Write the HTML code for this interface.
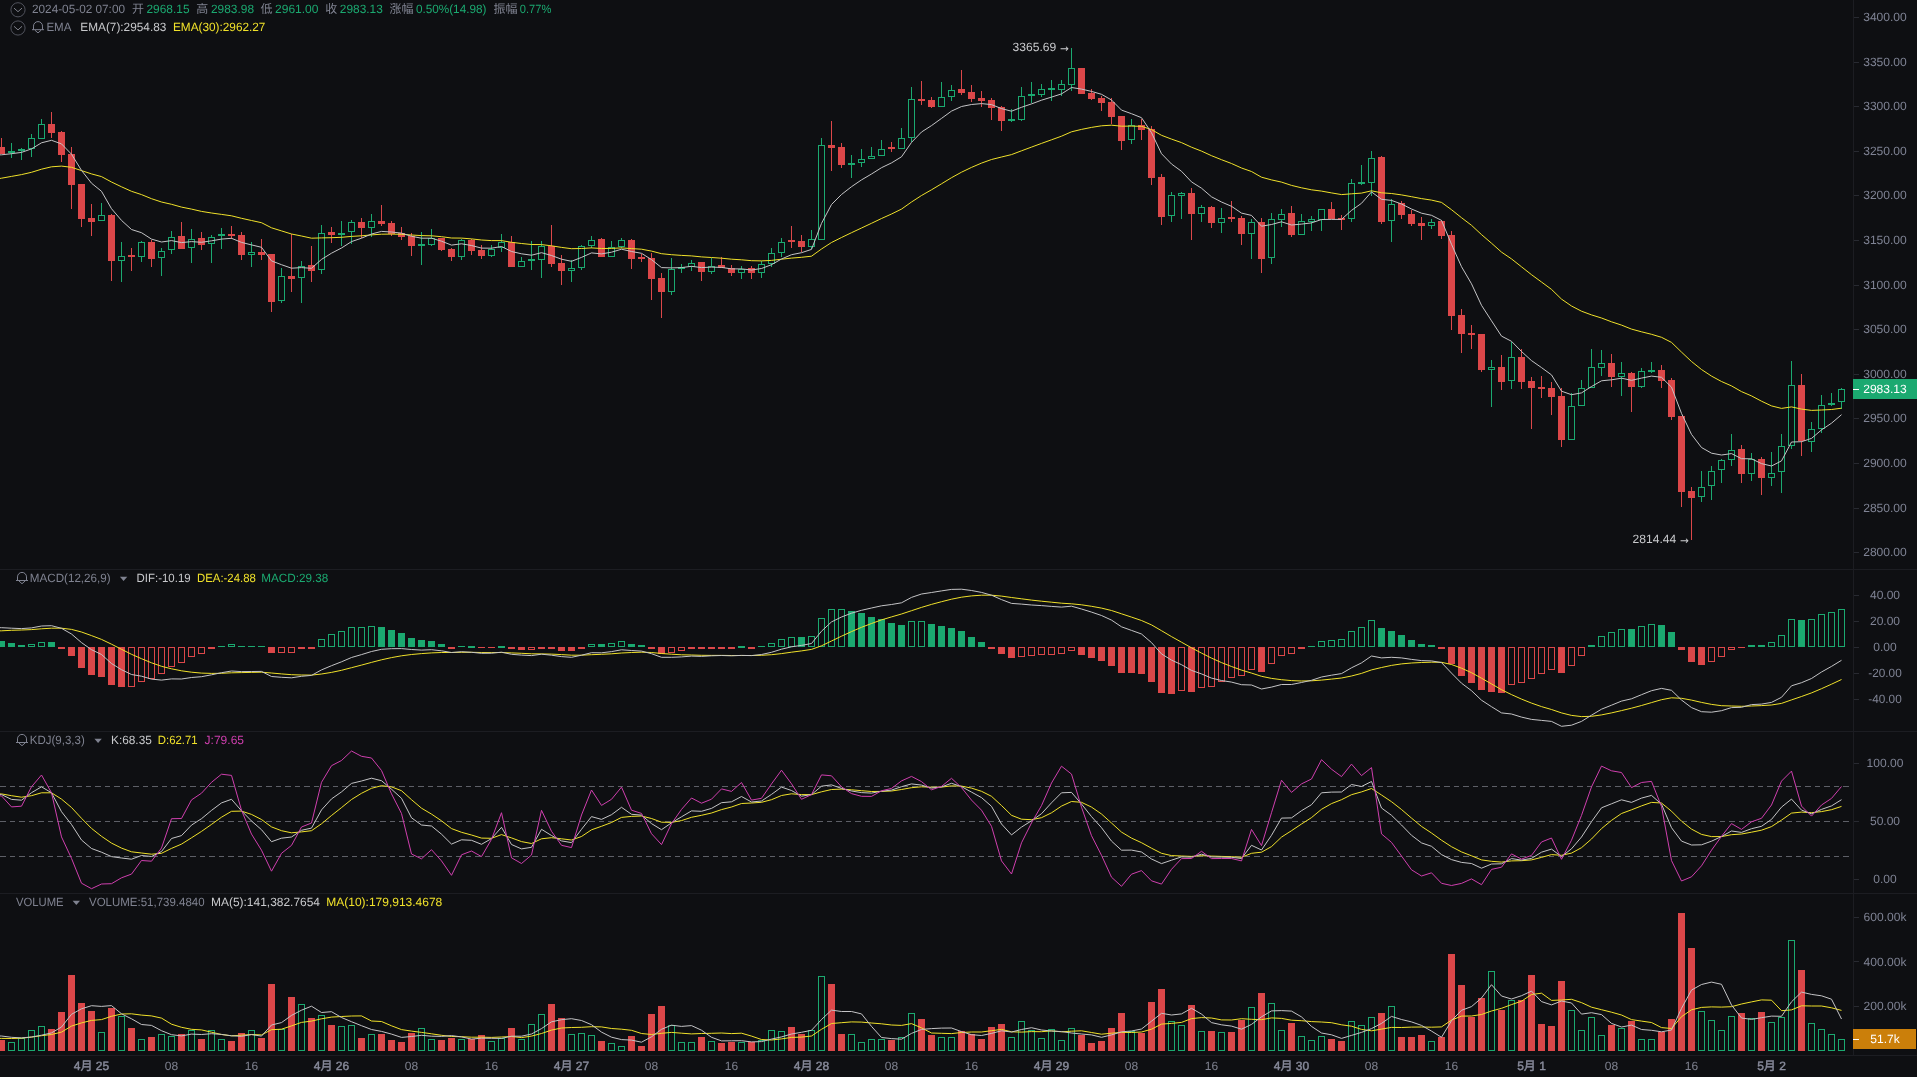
<!DOCTYPE html>
<html lang="zh"><head><meta charset="utf-8"><title>ETH/USDT 1H</title>
<style>html,body{margin:0;padding:0;background:#0e0f12;overflow:hidden}svg text{white-space:pre;text-rendering:geometricPrecision}</style></head>
<body><svg width="1917" height="1077" viewBox="0 0 1917 1077" style="display:block;will-change:transform;font-family:'Liberation Sans', 'Noto Sans CJK SC', sans-serif;font-size:12px">
<rect width="1917" height="1077" fill="#0e0f12"/>
<g stroke="#1c1d22" stroke-width="1" shape-rendering="crispEdges">
<line x1="0" y1="569.5" x2="1917" y2="569.5"/>
<line x1="0" y1="731.5" x2="1917" y2="731.5"/>
<line x1="0" y1="893.5" x2="1917" y2="893.5"/>
<line x1="0" y1="1055.5" x2="1917" y2="1055.5"/>
<line x1="1853.5" y1="0" x2="1853.5" y2="1055.5"/>
</g>
<g stroke="#5d5f67" stroke-width="1" stroke-dasharray="5.5 4" shape-rendering="crispEdges">
<line x1="0" y1="786.5" x2="1853" y2="786.5"/>
<line x1="0" y1="821.5" x2="1853" y2="821.5"/>
<line x1="0" y1="856.5" x2="1853" y2="856.5"/>
</g>
<g shape-rendering="crispEdges" fill="none" stroke-width="1">
<path stroke="#1ba970" d="M11.5 143V158M21.5 148V160M31.5 134V138M31.5 149V157M41.5 119V124M101.5 203V215M121.5 242V256M121.5 261V282M141.5 241V242M141.5 257V262M161.5 248V251M161.5 258V276M171.5 231V237M171.5 250V254M191.5 229V239M191.5 248V263M211.5 235V237M211.5 244V263M221.5 228V249M251.5 242V252M251.5 255V267M281.5 268V276M281.5 301V303M301.5 261V266M301.5 278V303M321.5 225V233M321.5 270V274M341.5 221V246M351.5 220V222M351.5 232V244M371.5 214V221M371.5 228V237M421.5 232V265M431.5 229V238M431.5 245V246M461.5 239V240M461.5 257V260M491.5 245V249M491.5 256V257M501.5 234V242M501.5 248V252M521.5 257V261M531.5 241V270M541.5 241V246M541.5 260V278M571.5 260V268M571.5 271V282M581.5 245V246M581.5 268V270M591.5 236V240M591.5 246V248M611.5 241V247M621.5 238V240M621.5 247V248M671.5 258V269M671.5 292V295M681.5 264V273M691.5 260V263M691.5 267V271M711.5 258V266M711.5 272V274M741.5 266V269M741.5 273V279M761.5 261V264M761.5 273V278M771.5 248V253M771.5 264V267M781.5 238V242M781.5 253V257M811.5 230V239M811.5 247V249M821.5 138V145M851.5 155V178M861.5 149V159M861.5 163V167M871.5 147V156M881.5 140V149M901.5 128V138M911.5 87V99M911.5 138V142M941.5 82V97M951.5 85V90M951.5 97V101M1011.5 109V122M1021.5 87V96M1021.5 120V121M1031.5 82V103M1041.5 84V89M1041.5 95V97M1051.5 80V101M1061.5 80V84M1061.5 90V96M1071.5 48V68M1071.5 85V91M1131.5 119V125M1131.5 140V144M1171.5 192V195M1171.5 216V222M1181.5 192V193M1181.5 196V219M1201.5 205V207M1201.5 214V222M1221.5 208V218M1221.5 223V233M1251.5 219V222M1251.5 234V259M1271.5 213V219M1271.5 258V264M1281.5 209V214M1281.5 220V227M1301.5 214V221M1311.5 216V219M1311.5 222V231M1321.5 220V231M1351.5 179V183M1351.5 219V222M1361.5 165V185M1371.5 151V158M1371.5 183V196M1391.5 199V204M1391.5 221V242M1431.5 219V222M1431.5 226V229M1491.5 360V367M1491.5 370V407M1511.5 342V357M1511.5 381V389M1571.5 393V406M1581.5 380V388M1591.5 349V367M1601.5 350V363M1601.5 368V376M1621.5 362V373M1621.5 377V396M1641.5 368V371M1641.5 387V388M1651.5 362V373M1701.5 471V487M1701.5 497V502M1711.5 466V471M1711.5 486V500M1721.5 459V460M1721.5 470V483M1731.5 434V450M1731.5 460V466M1751.5 453V459M1751.5 474V481M1771.5 452V473M1771.5 478V486M1781.5 434V446M1781.5 472V493M1791.5 361V385M1791.5 446V449M1811.5 422V429M1811.5 442V452M1821.5 395V405M1821.5 429V433M1831.5 393V406M1841.5 388V389M1841.5 402V409"/>
<path stroke="#1ba970" d="M28.5 138.5h6V148.5h-6zM38.5 124.5h6V138.5h-6zM98.5 215.5h6V220.5h-6zM118.5 256.5h6V260.5h-6zM138.5 242.5h6V256.5h-6zM158.5 251.5h6V257.5h-6zM168.5 237.5h6V249.5h-6zM188.5 239.5h6V247.5h-6zM208.5 237.5h6V243.5h-6zM248.5 252.5h6V254.5h-6zM278.5 276.5h6V300.5h-6zM298.5 266.5h6V277.5h-6zM318.5 233.5h6V269.5h-6zM348.5 222.5h6V231.5h-6zM368.5 221.5h6V227.5h-6zM428.5 238.5h6V244.5h-6zM458.5 240.5h6V256.5h-6zM488.5 249.5h6V255.5h-6zM498.5 242.5h6V247.5h-6zM518.5 261.5h6V266.5h-6zM538.5 246.5h6V259.5h-6zM568.5 268.5h6V270.5h-6zM578.5 246.5h6V267.5h-6zM588.5 240.5h6V245.5h-6zM608.5 247.5h6V256.5h-6zM618.5 240.5h6V246.5h-6zM668.5 269.5h6V291.5h-6zM688.5 263.5h6V266.5h-6zM708.5 266.5h6V271.5h-6zM738.5 269.5h6V272.5h-6zM758.5 264.5h6V272.5h-6zM768.5 253.5h6V263.5h-6zM778.5 242.5h6V252.5h-6zM808.5 239.5h6V246.5h-6zM818.5 145.5h6V239.5h-6zM858.5 159.5h6V162.5h-6zM868.5 156.5h6V158.5h-6zM878.5 149.5h6V155.5h-6zM898.5 138.5h6V148.5h-6zM908.5 99.5h6V137.5h-6zM938.5 97.5h6V106.5h-6zM948.5 90.5h6V96.5h-6zM1018.5 96.5h6V119.5h-6zM1038.5 89.5h6V94.5h-6zM1058.5 84.5h6V89.5h-6zM1068.5 68.5h6V84.5h-6zM1128.5 125.5h6V139.5h-6zM1168.5 195.5h6V215.5h-6zM1178.5 193.5h6V195.5h-6zM1198.5 207.5h6V213.5h-6zM1218.5 218.5h6V222.5h-6zM1248.5 222.5h6V233.5h-6zM1268.5 219.5h6V257.5h-6zM1278.5 214.5h6V219.5h-6zM1298.5 221.5h6V234.5h-6zM1308.5 219.5h6V221.5h-6zM1318.5 209.5h6V219.5h-6zM1348.5 183.5h6V218.5h-6zM1368.5 158.5h6V182.5h-6zM1388.5 204.5h6V220.5h-6zM1428.5 222.5h6V225.5h-6zM1488.5 367.5h6V369.5h-6zM1508.5 357.5h6V380.5h-6zM1568.5 406.5h6V439.5h-6zM1578.5 388.5h6V405.5h-6zM1588.5 367.5h6V387.5h-6zM1598.5 363.5h6V367.5h-6zM1618.5 373.5h6V376.5h-6zM1638.5 371.5h6V386.5h-6zM1698.5 487.5h6V496.5h-6zM1708.5 471.5h6V485.5h-6zM1718.5 460.5h6V469.5h-6zM1728.5 450.5h6V459.5h-6zM1748.5 459.5h6V473.5h-6zM1768.5 473.5h6V477.5h-6zM1778.5 446.5h6V471.5h-6zM1788.5 385.5h6V445.5h-6zM1808.5 429.5h6V441.5h-6zM1818.5 405.5h6V428.5h-6zM1838.5 389.5h6V401.5h-6z"/>
<path fill="#1ba970" stroke="none" d="M8 151h7V153h-7zM18 149h7V151h-7zM218 234h7V236h-7zM338 233h7V235h-7zM418 244h7V246h-7zM528 259h7V261h-7zM678 267h7V269h-7zM848 163h7V165h-7zM1008 119h7V121h-7zM1028 94h7V96h-7zM1048 88h7V90h-7zM1358 182h7V184h-7zM1648 370h7V372h-7zM1828 403h7V405h-7z"/>
<path stroke="#dc4749" d="M1.5 138V154M51.5 112V138M61.5 131V162M71.5 147V209M81.5 184V227M91.5 204V236M111.5 214V281M131.5 248V271M151.5 240V267M181.5 222V249M201.5 232V250M231.5 226V239M241.5 232V260M261.5 239V260M271.5 254V312M291.5 234V292M311.5 246V282M331.5 227V243M361.5 218V238M381.5 205V226M391.5 221V236M401.5 227V240M411.5 233V256M441.5 238V251M451.5 248V261M471.5 239V255M481.5 245V259M511.5 236V267M551.5 225V267M561.5 255V285M601.5 238V257M631.5 239V269M641.5 254V262M651.5 253V300M661.5 273V318M701.5 262V281M721.5 257V268M731.5 265V276M751.5 266V279M791.5 226V248M801.5 235V252M831.5 121V171M841.5 143V168M891.5 142V152M921.5 81V105M931.5 97V108M961.5 70V95M971.5 85V102M981.5 91V107M991.5 98V120M1001.5 106V131M1081.5 68V94M1091.5 89V100M1101.5 96V111M1111.5 98V124M1121.5 116V150M1141.5 119V140M1151.5 126V185M1161.5 174V225M1191.5 188V240M1211.5 206V228M1231.5 201V222M1241.5 216V245M1261.5 218V273M1291.5 206V237M1331.5 202V219M1341.5 215V230M1381.5 156V224M1401.5 201V219M1411.5 210V226M1421.5 217V240M1441.5 220V239M1451.5 231V330M1461.5 309V353M1471.5 325V349M1481.5 334V372M1501.5 355V390M1521.5 349V389M1531.5 377V429M1541.5 376V398M1551.5 382V415M1561.5 388V447M1611.5 354V387M1631.5 372V412M1661.5 365V388M1671.5 378V420M1681.5 416V507M1691.5 487V540M1741.5 445V483M1761.5 457V495M1801.5 374V456"/>
<path fill="#dc4749" stroke="none" d="M-2 147h7V154h-7zM48 124h7V133h-7zM58 132h7V155h-7zM68 154h7V185h-7zM78 184h7V219h-7zM88 218h7V222h-7zM108 215h7V261h-7zM128 255h7V257h-7zM148 242h7V259h-7zM178 236h7V249h-7zM198 238h7V245h-7zM228 234h7V236h-7zM238 235h7V255h-7zM258 252h7V255h-7zM268 254h7V302h-7zM288 276h7V279h-7zM308 265h7V271h-7zM328 232h7V235h-7zM358 222h7V228h-7zM378 221h7V224h-7zM388 223h7V234h-7zM398 233h7V237h-7zM408 236h7V246h-7zM438 238h7V250h-7zM448 249h7V257h-7zM468 240h7V251h-7zM478 250h7V256h-7zM508 242h7V267h-7zM548 246h7V264h-7zM558 263h7V271h-7zM598 239h7V257h-7zM628 240h7V259h-7zM638 257h7V259h-7zM648 258h7V279h-7zM658 278h7V292h-7zM698 262h7V272h-7zM718 265h7V268h-7zM728 268h7V273h-7zM748 268h7V273h-7zM788 240h7V242h-7zM798 241h7V247h-7zM828 145h7V148h-7zM838 147h7V165h-7zM888 147h7V149h-7zM918 99h7V101h-7zM928 100h7V107h-7zM958 89h7V93h-7zM968 92h7V99h-7zM978 98h7V101h-7zM988 100h7V108h-7zM998 107h7V121h-7zM1078 68h7V94h-7zM1088 93h7V99h-7zM1098 98h7V103h-7zM1108 102h7V117h-7zM1118 116h7V141h-7zM1138 125h7V130h-7zM1148 129h7V178h-7zM1158 177h7V217h-7zM1188 193h7V214h-7zM1208 207h7V223h-7zM1228 217h7V219h-7zM1238 218h7V234h-7zM1258 222h7V259h-7zM1288 213h7V235h-7zM1328 209h7V219h-7zM1338 218h7V220h-7zM1378 157h7V222h-7zM1398 203h7V215h-7zM1408 214h7V224h-7zM1418 223h7V226h-7zM1438 221h7V236h-7zM1448 235h7V316h-7zM1458 315h7V334h-7zM1468 333h7V335h-7zM1478 334h7V370h-7zM1498 367h7V382h-7zM1518 357h7V382h-7zM1528 381h7V388h-7zM1538 387h7V389h-7zM1548 388h7V397h-7zM1558 396h7V440h-7zM1608 363h7V377h-7zM1628 373h7V387h-7zM1658 370h7V381h-7zM1668 380h7V417h-7zM1678 416h7V492h-7zM1688 491h7V498h-7zM1738 449h7V474h-7zM1758 459h7V478h-7zM1798 385h7V441h-7z"/>
</g>
<polyline fill="none" stroke="#f0e12a" stroke-width="1" stroke-linejoin="round" points="-8.5,179.9 1.5,178.2 11.5,176.4 21.5,174.6 31.5,172.3 41.5,169.2 51.5,166.8 61.5,166.1 71.5,167.3 81.5,170.6 91.5,173.9 101.5,176.6 111.5,182 121.5,186.8 131.5,191.3 141.5,194.6 151.5,198.7 161.5,202 171.5,204.3 181.5,207.1 191.5,209.1 201.5,211.4 211.5,213 221.5,214.4 231.5,215.8 241.5,218.3 251.5,220.5 261.5,222.7 271.5,227.8 281.5,230.9 291.5,234 301.5,236 311.5,238.2 321.5,237.9 331.5,237.7 341.5,237.3 351.5,236.4 361.5,235.8 371.5,234.9 381.5,234.2 391.5,234.1 401.5,234.3 411.5,235 421.5,235.6 431.5,235.8 441.5,236.7 451.5,238 461.5,238.1 471.5,238.9 481.5,240 491.5,240.6 501.5,240.6 511.5,242.3 521.5,243.5 531.5,244.5 541.5,244.6 551.5,245.8 561.5,247.4 571.5,248.7 581.5,248.5 591.5,247.9 601.5,248.5 611.5,248.4 621.5,247.9 631.5,248.6 641.5,249.2 651.5,251.1 661.5,253.7 671.5,254.7 681.5,255.4 691.5,255.9 701.5,256.9 711.5,257.5 721.5,258.2 731.5,259.2 741.5,259.8 751.5,260.7 761.5,260.9 771.5,260.4 781.5,259.2 791.5,258.1 801.5,257.3 811.5,256.2 821.5,249 831.5,242.5 841.5,237.5 851.5,232.7 861.5,228 871.5,223.3 881.5,218.5 891.5,214 901.5,209.1 911.5,202 921.5,195.5 931.5,189.8 941.5,183.8 951.5,177.7 961.5,172.2 971.5,167.4 981.5,163.1 991.5,159.5 1001.5,157 1011.5,154.6 1021.5,150.8 1031.5,147.1 1041.5,143.4 1051.5,139.8 1061.5,136.2 1071.5,131.8 1081.5,129.4 1091.5,127.4 1101.5,125.8 1111.5,125.2 1121.5,126.2 1131.5,126.1 1141.5,126.3 1151.5,129.6 1161.5,135.3 1171.5,139.1 1181.5,142.6 1191.5,147.2 1201.5,151.1 1211.5,155.7 1221.5,159.7 1231.5,163.5 1241.5,168 1251.5,171.5 1261.5,177.2 1271.5,179.9 1281.5,182.1 1291.5,185.4 1301.5,187.8 1311.5,189.8 1321.5,191.1 1331.5,192.9 1341.5,194.6 1351.5,193.8 1361.5,193.1 1371.5,190.8 1381.5,192.8 1391.5,193.5 1401.5,194.9 1411.5,196.7 1421.5,198.6 1431.5,200.1 1441.5,202.4 1451.5,209.7 1461.5,217.7 1471.5,225.3 1481.5,234.6 1491.5,243.2 1501.5,252.1 1511.5,258.9 1521.5,266.8 1531.5,274.7 1541.5,282 1551.5,289.4 1561.5,299.1 1571.5,306 1581.5,311.2 1591.5,314.9 1601.5,318 1611.5,321.8 1621.5,325.1 1631.5,329.1 1641.5,331.8 1651.5,334.3 1661.5,337.3 1671.5,342.4 1681.5,352.1 1691.5,361.5 1701.5,369.5 1711.5,376.1 1721.5,381.5 1731.5,385.9 1741.5,391.6 1751.5,395.9 1761.5,401.2 1771.5,405.9 1781.5,408.4 1791.5,406.9 1801.5,409.1 1811.5,410.4 1821.5,410 1831.5,409.5 1841.5,408.2"/>
<polyline fill="none" stroke="#c4c4c6" stroke-width="1" stroke-linejoin="round" points="-8.5,155.1 1.5,154.8 11.5,153.7 21.5,152.4 31.5,148.9 41.5,142.8 51.5,140.3 61.5,143.9 71.5,154.2 81.5,170.4 91.5,183.2 101.5,191.3 111.5,208.7 121.5,220.4 131.5,229.5 141.5,232.7 151.5,239.1 161.5,242 171.5,240.6 181.5,242.6 191.5,241.6 201.5,242.3 211.5,240.8 221.5,239.1 231.5,238.3 241.5,242.4 251.5,244.9 261.5,247.3 271.5,260.9 281.5,264.7 291.5,268.2 301.5,267.6 311.5,268.3 321.5,259.4 331.5,253.2 341.5,248 351.5,241.6 361.5,238.2 371.5,234 381.5,231.4 391.5,232 401.5,233.1 411.5,236.3 421.5,238.2 431.5,238.2 441.5,241.2 451.5,245.1 461.5,243.8 471.5,245.5 481.5,248.1 491.5,248.2 501.5,246.5 511.5,251.5 521.5,253.8 531.5,255.2 541.5,252.7 551.5,255.5 561.5,259.2 571.5,261.3 581.5,257.4 591.5,252.9 601.5,253.9 611.5,252.2 621.5,249.2 631.5,251.5 641.5,253.3 651.5,259.6 661.5,267.6 671.5,267.9 681.5,267.6 691.5,266.3 701.5,267.6 711.5,267.1 721.5,267.4 731.5,268.9 741.5,268.9 751.5,270 761.5,268.5 771.5,264.7 781.5,259 791.5,254.7 801.5,252.7 811.5,249.4 821.5,223.4 831.5,204.5 841.5,194.5 851.5,186.7 861.5,179.9 871.5,174 881.5,167.7 891.5,162.9 901.5,156.8 911.5,142.4 921.5,132 931.5,125.6 941.5,118.4 951.5,111.1 961.5,106.5 971.5,104.5 981.5,103.6 991.5,104.6 1001.5,108.6 1011.5,111.2 1021.5,107.3 1031.5,103.9 1041.5,100.2 1051.5,97.1 1061.5,93.9 1071.5,87.5 1081.5,89.1 1091.5,91.4 1101.5,94.3 1111.5,100 1121.5,110.1 1131.5,113.7 1141.5,117.7 1151.5,132.7 1161.5,153.7 1171.5,164 1181.5,171.3 1191.5,181.9 1201.5,188.2 1211.5,196.8 1221.5,202 1231.5,206.3 1241.5,213.1 1251.5,215.4 1261.5,226.2 1271.5,224.5 1281.5,221.8 1291.5,225 1301.5,224.1 1311.5,222.9 1321.5,219.5 1331.5,219.4 1341.5,219.4 1351.5,210.4 1361.5,203.3 1371.5,191.9 1381.5,199.3 1391.5,200.4 1401.5,204 1411.5,209 1421.5,213.2 1431.5,215.3 1441.5,220.4 1451.5,244.3 1461.5,266.7 1471.5,283.8 1481.5,305.3 1491.5,320.8 1501.5,336.1 1511.5,341.3 1521.5,351.5 1531.5,360.6 1541.5,367.6 1551.5,374.9 1561.5,391.2 1571.5,394.7 1581.5,392.9 1591.5,386.5 1601.5,380.8 1611.5,379.8 1621.5,378.2 1631.5,380.3 1641.5,378.1 1651.5,376.1 1661.5,377.3 1671.5,387.2 1681.5,413.4 1691.5,434.4 1701.5,447.5 1711.5,453.2 1721.5,455 1731.5,453.6 1741.5,458.7 1751.5,458.8 1761.5,463.6 1771.5,466 1781.5,460.9 1791.5,442 1801.5,441.7 1811.5,438.4 1821.5,429.9 1831.5,423.2 1841.5,414.7"/>
<g shape-rendering="crispEdges" stroke-width="1">
<path fill="#1ba970" d="M-2 641h7V647h-7zM8 643h7V647h-7zM18 645h7V647h-7zM48 642h7V647h-7zM218 646h7V647h-7zM238 646h7V647h-7zM248 646h7V647h-7zM258 646h7V647h-7zM378 627h7V647h-7zM388 630h7V647h-7zM398 633h7V647h-7zM408 638h7V647h-7zM418 640h7V647h-7zM428 641h7V647h-7zM438 644h7V647h-7zM458 646h7V647h-7zM468 646h7V648h-7zM498 646h7V648h-7zM598 644h7V647h-7zM628 644h7V647h-7zM638 645h7V647h-7zM738 646h7V648h-7zM758 646h7V647h-7zM798 637h7V647h-7zM848 611h7V647h-7zM858 613h7V647h-7zM868 617h7V647h-7zM878 619h7V647h-7zM888 623h7V647h-7zM898 625h7V647h-7zM928 624h7V647h-7zM938 626h7V647h-7zM948 628h7V647h-7zM958 631h7V647h-7zM968 637h7V647h-7zM978 642h7V647h-7zM1308 646h7V647h-7zM1378 628h7V647h-7zM1388 631h7V647h-7zM1398 635h7V647h-7zM1408 640h7V647h-7zM1418 644h7V647h-7zM1428 645h7V647h-7zM1588 645h7V647h-7zM1628 629h7V647h-7zM1658 625h7V647h-7zM1668 632h7V647h-7zM1748 645h7V647h-7zM1758 645h7V647h-7zM1798 620h7V647h-7z"/>
<path fill="none" stroke="#1ba970" d="M28.5 644.5h6V646.5h-6zM38.5 642.5h6V646.5h-6zM228.5 644.5h6V646.5h-6zM318.5 639.5h6V646.5h-6zM328.5 634.5h6V646.5h-6zM338.5 631.5h6V646.5h-6zM348.5 627.5h6V646.5h-6zM358.5 627.5h6V646.5h-6zM368.5 626.5h6V646.5h-6zM588.5 644.5h6V646.5h-6zM608.5 643.5h6V646.5h-6zM618.5 641.5h6V646.5h-6zM768.5 643.5h6V646.5h-6zM778.5 639.5h6V646.5h-6zM788.5 637.5h6V646.5h-6zM808.5 636.5h6V646.5h-6zM818.5 618.5h6V646.5h-6zM828.5 609.5h6V646.5h-6zM838.5 609.5h6V646.5h-6zM908.5 621.5h6V646.5h-6zM918.5 621.5h6V646.5h-6zM1318.5 641.5h6V646.5h-6zM1328.5 640.5h6V646.5h-6zM1338.5 639.5h6V646.5h-6zM1348.5 631.5h6V646.5h-6zM1358.5 627.5h6V646.5h-6zM1368.5 620.5h6V646.5h-6zM1598.5 636.5h6V646.5h-6zM1608.5 632.5h6V646.5h-6zM1618.5 629.5h6V646.5h-6zM1638.5 626.5h6V646.5h-6zM1648.5 624.5h6V646.5h-6zM1768.5 642.5h6V646.5h-6zM1778.5 635.5h6V646.5h-6zM1788.5 619.5h6V646.5h-6zM1808.5 619.5h6V646.5h-6zM1818.5 614.5h6V646.5h-6zM1828.5 612.5h6V646.5h-6zM1838.5 609.5h6V646.5h-6z"/>
<path fill="#dc4749" d="M58 647h7V649h-7zM68 647h7V656h-7zM78 647h7V668h-7zM88 647h7V675h-7zM98 647h7V677h-7zM108 647h7V685h-7zM118 647h7V687h-7zM208 647h7V649h-7zM268 647h7V653h-7zM298 647h7V649h-7zM308 647h7V649h-7zM448 647h7V649h-7zM478 647h7V648h-7zM488 647h7V648h-7zM508 647h7V649h-7zM518 647h7V650h-7zM538 647h7V649h-7zM548 647h7V649h-7zM558 647h7V651h-7zM568 647h7V651h-7zM578 647h7V649h-7zM648 647h7V649h-7zM658 647h7V654h-7zM688 647h7V649h-7zM698 647h7V649h-7zM708 647h7V649h-7zM718 647h7V649h-7zM728 647h7V649h-7zM748 647h7V649h-7zM988 647h7V649h-7zM998 647h7V654h-7zM1008 647h7V658h-7zM1078 647h7V655h-7zM1088 647h7V658h-7zM1098 647h7V661h-7zM1108 647h7V666h-7zM1118 647h7V673h-7zM1128 647h7V673h-7zM1138 647h7V674h-7zM1148 647h7V682h-7zM1158 647h7V693h-7zM1168 647h7V694h-7zM1188 647h7V692h-7zM1258 647h7V672h-7zM1298 647h7V649h-7zM1438 647h7V649h-7zM1448 647h7V664h-7zM1458 647h7V676h-7zM1468 647h7V683h-7zM1478 647h7V690h-7zM1488 647h7V692h-7zM1498 647h7V693h-7zM1558 647h7V673h-7zM1678 647h7V650h-7zM1688 647h7V662h-7zM1698 647h7V665h-7zM1738 647h7V648h-7z"/>
<path fill="none" stroke="#dc4749" d="M128.5 647.5h6V686.5h-6zM138.5 647.5h6V681.5h-6zM148.5 647.5h6V678.5h-6zM158.5 647.5h6V673.5h-6zM168.5 647.5h6V666.5h-6zM178.5 647.5h6V662.5h-6zM188.5 647.5h6V656.5h-6zM198.5 647.5h6V653.5h-6zM278.5 647.5h6V652.5h-6zM288.5 647.5h6V652.5h-6zM528.5 647.5h6V649.5h-6zM668.5 647.5h6V652.5h-6zM678.5 647.5h6V650.5h-6zM1018.5 647.5h6V656.5h-6zM1028.5 647.5h6V655.5h-6zM1038.5 647.5h6V654.5h-6zM1048.5 647.5h6V654.5h-6zM1058.5 647.5h6V653.5h-6zM1068.5 647.5h6V650.5h-6zM1178.5 647.5h6V690.5h-6zM1198.5 647.5h6V687.5h-6zM1208.5 647.5h6V686.5h-6zM1218.5 647.5h6V681.5h-6zM1228.5 647.5h6V677.5h-6zM1238.5 647.5h6V675.5h-6zM1248.5 647.5h6V669.5h-6zM1268.5 647.5h6V663.5h-6zM1278.5 647.5h6V655.5h-6zM1288.5 647.5h6V653.5h-6zM1508.5 647.5h6V684.5h-6zM1518.5 647.5h6V682.5h-6zM1528.5 647.5h6V678.5h-6zM1538.5 647.5h6V673.5h-6zM1548.5 647.5h6V669.5h-6zM1568.5 647.5h6V665.5h-6zM1578.5 647.5h6V655.5h-6zM1708.5 647.5h6V661.5h-6zM1718.5 647.5h6V656.5h-6zM1728.5 647.5h6V649.5h-6z"/>
</g>
<polyline fill="none" stroke="#f0e12a" stroke-width="1" stroke-linejoin="round" points="-8.5,631.1 1.5,630.8 11.5,630.3 21.5,630 31.5,629.6 41.5,628.8 51.5,628.2 61.5,628.2 71.5,629.4 81.5,632 91.5,635.6 101.5,639.4 111.5,644.2 121.5,649.3 131.5,654.3 141.5,658.7 151.5,662.8 161.5,666.3 171.5,668.8 181.5,670.8 191.5,672.2 201.5,673.1 211.5,673.4 221.5,673.3 231.5,672.8 241.5,672.6 251.5,672.4 261.5,672.2 271.5,673 281.5,673.9 291.5,674.7 301.5,675 311.5,675.1 321.5,674 331.5,672.4 341.5,670.3 351.5,667.7 361.5,665.1 371.5,662.4 381.5,659.8 391.5,657.6 401.5,655.8 411.5,654.5 421.5,653.6 431.5,652.9 441.5,652.5 451.5,652.5 461.5,652.3 471.5,652.3 481.5,652.5 491.5,652.6 501.5,652.5 511.5,652.9 521.5,653.3 531.5,653.8 541.5,653.9 551.5,654.1 561.5,654.6 571.5,655.2 581.5,655.2 591.5,654.7 601.5,654.3 611.5,653.8 621.5,653 631.5,652.5 641.5,652.2 651.5,652.5 661.5,653.5 671.5,654.2 681.5,654.8 691.5,655 701.5,655.3 711.5,655.4 721.5,655.4 731.5,655.5 741.5,655.5 751.5,655.5 761.5,655.3 771.5,654.7 781.5,653.6 791.5,652.2 801.5,650.9 811.5,649.4 821.5,645.8 831.5,641 841.5,636.2 851.5,631.6 861.5,627.3 871.5,623.5 881.5,619.9 891.5,616.9 901.5,614 911.5,610.7 921.5,607.4 931.5,604.4 941.5,601.7 951.5,599.2 961.5,597.2 971.5,595.9 981.5,595.2 991.5,595.2 1001.5,596.1 1011.5,597.5 1021.5,598.8 1031.5,600.1 1041.5,601.2 1051.5,602.2 1061.5,603.2 1071.5,603.8 1081.5,604.8 1091.5,606.3 1101.5,608.1 1111.5,610.5 1121.5,613.8 1131.5,617.1 1141.5,620.5 1151.5,624.9 1161.5,630.7 1171.5,636.6 1181.5,642.2 1191.5,647.8 1201.5,653.1 1211.5,658.1 1221.5,662.6 1231.5,666.5 1241.5,670.1 1251.5,673.1 1261.5,676.3 1271.5,678.4 1281.5,679.7 1291.5,680.6 1301.5,681 1311.5,680.8 1321.5,680.1 1331.5,679.1 1341.5,678 1351.5,676 1361.5,673.4 1371.5,669.9 1381.5,667.5 1391.5,665.4 1401.5,663.9 1411.5,663 1421.5,662.5 1431.5,662.2 1441.5,662.3 1451.5,664.5 1461.5,668.2 1471.5,672.7 1481.5,678.2 1491.5,683.9 1501.5,689.7 1511.5,694.6 1521.5,699.1 1531.5,703.1 1541.5,706.6 1551.5,709.5 1561.5,712.9 1571.5,715.4 1581.5,716.6 1591.5,716.3 1601.5,714.9 1611.5,712.9 1621.5,710.6 1631.5,708.2 1641.5,705.5 1651.5,702.6 1661.5,699.7 1671.5,697.8 1681.5,698.3 1691.5,700.1 1701.5,702.4 1711.5,704.4 1721.5,705.7 1731.5,706 1741.5,706.3 1751.5,706 1761.5,705.6 1771.5,705 1781.5,703.4 1791.5,699.9 1801.5,696.5 1811.5,692.9 1821.5,688.7 1831.5,684.2 1841.5,679.5"/>
<polyline fill="none" stroke="#c4c4c6" stroke-width="1" stroke-linejoin="round" points="-8.5,627.7 1.5,627.7 11.5,628.2 21.5,628.6 31.5,627.9 41.5,626 51.5,625.7 61.5,628.3 71.5,634 81.5,642.6 91.5,649.7 101.5,654.5 111.5,663.5 121.5,669.7 131.5,674.5 141.5,676.2 151.5,679.1 161.5,680.1 171.5,678.9 181.5,679 191.5,677.5 201.5,676.7 211.5,674.8 221.5,672.7 231.5,671 241.5,671.6 251.5,671.5 261.5,671.4 271.5,676.5 281.5,677.3 291.5,677.8 301.5,676.3 311.5,675.4 321.5,669.9 331.5,665.7 341.5,661.8 351.5,657.5 361.5,654.6 371.5,651.5 381.5,649.3 391.5,648.7 401.5,648.6 411.5,649.5 421.5,650.1 431.5,649.7 441.5,650.8 451.5,652.5 461.5,651.7 471.5,652.3 481.5,653.3 491.5,653.2 501.5,652.2 511.5,654.3 521.5,655.1 531.5,655.6 541.5,654.2 551.5,655.2 561.5,656.6 571.5,657.3 581.5,655.2 591.5,652.7 601.5,652.8 611.5,651.6 621.5,649.8 631.5,650.5 641.5,651.1 651.5,653.7 661.5,657.3 671.5,657.3 681.5,656.9 691.5,656.1 701.5,656.4 711.5,655.8 721.5,655.5 731.5,655.8 741.5,655.4 751.5,655.6 761.5,654.5 771.5,652.3 781.5,649.2 791.5,646.8 801.5,645.4 811.5,643.5 821.5,631.2 831.5,621.9 841.5,617 851.5,613.2 861.5,610.3 871.5,608 881.5,605.8 891.5,604.5 901.5,602.8 911.5,597.4 921.5,594 931.5,592.5 941.5,590.9 951.5,589.4 961.5,589.2 971.5,590.5 981.5,592.4 991.5,595.2 1001.5,599.6 1011.5,603.4 1021.5,604.1 1031.5,605 1041.5,605.6 1051.5,606.4 1061.5,607.1 1071.5,606.2 1081.5,609 1091.5,612.1 1101.5,615.5 1111.5,620.1 1121.5,626.8 1131.5,630.4 1141.5,634 1151.5,642.6 1161.5,653.9 1171.5,660.1 1181.5,664.7 1191.5,670.4 1201.5,673.9 1211.5,678.1 1221.5,680.5 1231.5,682.1 1241.5,684.7 1251.5,685 1261.5,689 1271.5,687.1 1281.5,684.5 1291.5,684.5 1301.5,682.5 1311.5,680.3 1321.5,677 1331.5,675.2 1341.5,673.6 1351.5,667.8 1361.5,662.9 1371.5,656 1381.5,657.9 1391.5,657.3 1401.5,657.9 1411.5,659.4 1421.5,660.6 1431.5,660.9 1441.5,662.6 1451.5,673.1 1461.5,683.2 1471.5,690.7 1481.5,700.2 1491.5,706.7 1501.5,712.9 1511.5,714 1521.5,717.1 1531.5,719.4 1541.5,720.4 1551.5,721.4 1561.5,726.3 1571.5,725.2 1581.5,721.4 1591.5,715.2 1601.5,709.2 1611.5,705.2 1621.5,701.1 1631.5,698.8 1641.5,694.7 1651.5,690.7 1661.5,688.4 1671.5,690.3 1681.5,700 1691.5,707.6 1701.5,711.7 1711.5,712.2 1721.5,710.7 1731.5,707.6 1741.5,707.3 1751.5,704.6 1761.5,704.1 1771.5,702.4 1781.5,697.3 1791.5,685.8 1801.5,682.7 1811.5,678.5 1821.5,672 1831.5,666.4 1841.5,660.3"/>
<polyline fill="none" stroke="#f0e12a" stroke-width="1" stroke-linejoin="round" points="-8.5,793.9 1.5,793.9 11.5,795.7 21.5,797.2 31.5,795.7 41.5,792.8 51.5,792.8 61.5,799.1 71.5,807.5 81.5,818.3 91.5,828.4 101.5,836.3 111.5,843.1 121.5,848.1 131.5,851.8 141.5,853 151.5,854.2 161.5,853.3 171.5,848.4 181.5,844.1 191.5,837.8 201.5,831.4 211.5,824.4 221.5,817.2 231.5,811.3 241.5,811.1 251.5,814.4 261.5,819.5 271.5,826.9 281.5,830.7 291.5,832.8 301.5,831.9 311.5,830.7 321.5,823.8 331.5,815.5 341.5,807.6 351.5,799.5 361.5,793.3 371.5,788.3 381.5,785.7 391.5,786.9 401.5,790.7 411.5,799.7 421.5,808.2 431.5,814.1 441.5,820.8 451.5,828.6 461.5,832.3 471.5,835 481.5,838.1 491.5,838.3 501.5,834.6 511.5,837.9 521.5,841.6 531.5,843.5 541.5,838.8 551.5,837.7 561.5,838.8 571.5,840 581.5,836.5 591.5,829.8 601.5,826.3 611.5,822.5 621.5,817.4 631.5,816.4 641.5,816 651.5,818.5 661.5,822.2 671.5,822.4 681.5,820.6 691.5,817.3 701.5,815.3 711.5,813 721.5,809.6 731.5,807 741.5,803.5 751.5,803 761.5,802.3 771.5,799.7 781.5,795.5 791.5,793.8 801.5,794.6 811.5,794.6 821.5,791.8 831.5,789.5 841.5,789.1 851.5,789.8 861.5,790.7 871.5,791.5 881.5,791.4 891.5,791 901.5,789.5 911.5,787.7 921.5,786.8 931.5,787.2 941.5,787.1 951.5,785.9 961.5,786.1 971.5,788.1 981.5,791.3 991.5,796.3 1001.5,805.5 1011.5,815.3 1021.5,819.2 1031.5,819.7 1041.5,817.7 1051.5,812.8 1061.5,806.1 1071.5,801.5 1081.5,802.3 1091.5,807.1 1101.5,814 1111.5,823 1121.5,832.1 1131.5,838.1 1141.5,842.7 1151.5,848.2 1161.5,853.3 1171.5,855.6 1181.5,856 1191.5,856.4 1201.5,855.7 1211.5,856.1 1221.5,856.4 1231.5,856.7 1241.5,857.3 1251.5,853.3 1261.5,852.2 1271.5,846.6 1281.5,837.1 1291.5,830.7 1301.5,824 1311.5,817.6 1321.5,809.3 1331.5,803.6 1341.5,799.7 1351.5,794.7 1361.5,791.9 1371.5,788.5 1381.5,795 1391.5,801.7 1401.5,809.5 1411.5,818.1 1421.5,826.4 1431.5,833 1441.5,840.2 1451.5,846.7 1461.5,851.9 1471.5,855.8 1481.5,859.9 1491.5,861.3 1501.5,862.1 1511.5,860.9 1521.5,860.7 1531.5,859.9 1541.5,857.4 1551.5,854.6 1561.5,855.3 1571.5,853.1 1581.5,847.7 1591.5,839 1601.5,828.6 1611.5,820.4 1621.5,813.5 1631.5,809.8 1641.5,805.9 1651.5,802.4 1661.5,803 1671.5,811.2 1681.5,821.2 1691.5,829.1 1701.5,834.4 1711.5,836.6 1721.5,836.6 1731.5,834.7 1741.5,834 1751.5,832.2 1761.5,830.2 1771.5,826.6 1781.5,820.1 1791.5,813.1 1801.5,812.1 1811.5,812.7 1821.5,811.6 1831.5,809.7 1841.5,806.4"/>
<polyline fill="none" stroke="#c4c4c6" stroke-width="1" stroke-linejoin="round" points="-8.5,794.6 1.5,794.6 11.5,799.4 21.5,800.2 31.5,792.7 41.5,786.8 51.5,792.8 61.5,811.7 71.5,824.5 81.5,840 91.5,848.5 101.5,852.2 111.5,856.6 121.5,858 131.5,859.2 141.5,855.5 151.5,856.5 161.5,851.5 171.5,838.5 181.5,835.6 191.5,825.1 201.5,818.7 211.5,810.4 221.5,802.9 231.5,799.3 241.5,810.8 251.5,821 261.5,829.7 271.5,841.7 281.5,838.2 291.5,837 301.5,830.3 311.5,828.1 321.5,809.9 331.5,798.9 341.5,791.9 351.5,783.4 361.5,781 371.5,778.2 381.5,780.7 391.5,789.2 401.5,798.3 411.5,817.8 421.5,825 431.5,826 441.5,834.2 451.5,844.1 461.5,839.8 471.5,840.3 481.5,844.3 491.5,838.6 501.5,827.3 511.5,844.5 521.5,848.9 531.5,847.3 541.5,829.3 551.5,835.5 561.5,840.9 571.5,842.6 581.5,829.3 591.5,816.6 601.5,819.4 611.5,814.7 621.5,807.3 631.5,814.3 641.5,815.1 651.5,823.6 661.5,829.7 671.5,822.8 681.5,816.8 691.5,810.9 701.5,811.3 711.5,808.4 721.5,802.7 731.5,801.8 741.5,796.5 751.5,802 761.5,801 771.5,794.4 781.5,787.1 791.5,790.5 801.5,796.2 811.5,794.6 821.5,786.2 831.5,784.9 841.5,788.4 851.5,791 861.5,792.6 871.5,793.1 881.5,791.2 891.5,790.1 901.5,786.7 911.5,783.9 921.5,785.1 931.5,788.1 941.5,786.9 951.5,783.3 961.5,786.6 971.5,792.1 981.5,797.6 991.5,806.3 1001.5,824 1011.5,834.9 1021.5,827.1 1031.5,820.8 1041.5,813.7 1051.5,802.8 1061.5,792.8 1071.5,792.4 1081.5,804 1091.5,816.6 1101.5,827.7 1111.5,841.1 1121.5,850.2 1131.5,850.1 1141.5,852 1151.5,859 1161.5,863.6 1171.5,860.2 1181.5,856.9 1191.5,857.1 1201.5,854.2 1211.5,856.9 1221.5,857.1 1231.5,857.3 1241.5,858.5 1251.5,845.3 1261.5,850 1271.5,835.3 1281.5,818.1 1291.5,817.9 1301.5,810.7 1311.5,804.7 1321.5,792.8 1331.5,792.1 1341.5,792 1351.5,784.5 1361.5,786.5 1371.5,781.5 1381.5,808 1391.5,815.3 1401.5,825 1411.5,835.3 1421.5,842.9 1431.5,846.3 1441.5,854.6 1451.5,859.6 1461.5,862.4 1471.5,863.5 1481.5,868.2 1491.5,864 1501.5,863.8 1511.5,858.6 1521.5,860.1 1531.5,858.4 1541.5,852.2 1551.5,849.1 1561.5,856.6 1571.5,848.8 1581.5,837 1591.5,821.7 1601.5,807.8 1611.5,803.8 1621.5,799.8 1631.5,802.4 1641.5,798.1 1651.5,795.4 1661.5,804.2 1671.5,827.7 1681.5,841.1 1691.5,845 1701.5,844.8 1711.5,841.2 1721.5,836.5 1731.5,831 1741.5,832.4 1751.5,828.7 1761.5,826.3 1771.5,819.4 1781.5,807.1 1791.5,799.1 1801.5,810.1 1811.5,813.8 1821.5,809.4 1831.5,805.9 1841.5,799.7"/>
<polyline fill="none" stroke="#cf3fae" stroke-width="1" stroke-linejoin="round" points="-8.5,795.9 1.5,795.9 11.5,806.9 21.5,806.2 31.5,786.8 41.5,775 51.5,792.8 61.5,836.9 71.5,858.4 81.5,883.2 91.5,888.7 101.5,884 111.5,883.7 121.5,877.8 131.5,874.1 141.5,860.5 151.5,861.2 161.5,848 171.5,818.7 181.5,818.5 191.5,799.9 201.5,793.2 211.5,782.3 221.5,774.2 231.5,775.4 241.5,810.3 251.5,834.1 261.5,850.2 271.5,871.2 281.5,853.3 291.5,845.4 301.5,827 311.5,823 321.5,782.3 331.5,765.7 341.5,760.5 351.5,751 361.5,756.3 371.5,758 381.5,770.5 391.5,793.8 401.5,813.5 411.5,854 421.5,858.8 431.5,849.7 441.5,860.9 451.5,875.3 461.5,854.8 471.5,851 481.5,856.6 491.5,839.3 501.5,812.7 511.5,857.8 521.5,863.5 531.5,855 541.5,810.3 551.5,831.3 561.5,845.3 571.5,847.6 581.5,815 591.5,790 601.5,805.4 611.5,799.3 621.5,787.1 631.5,810.2 641.5,813.4 651.5,833.7 661.5,844.6 671.5,823.7 681.5,809.4 691.5,798 701.5,803.2 711.5,799.2 721.5,788.9 731.5,791.4 741.5,782.5 751.5,800.1 761.5,798.3 771.5,783.9 781.5,770.2 791.5,783.8 801.5,799.3 811.5,794.6 821.5,774.9 831.5,775.8 841.5,786.8 851.5,793.6 861.5,796.3 871.5,796.4 881.5,790.8 891.5,788.4 901.5,780.9 911.5,776.4 921.5,781.6 931.5,789.8 941.5,786.4 951.5,778.3 961.5,787.6 971.5,800.1 981.5,810.2 991.5,826.3 1001.5,860.9 1011.5,874 1021.5,842.8 1031.5,822.9 1041.5,805.6 1051.5,783 1061.5,766.2 1071.5,774.1 1081.5,807.2 1091.5,835.7 1101.5,855.3 1111.5,877.2 1121.5,886.3 1131.5,874.2 1141.5,870.6 1151.5,880.8 1161.5,884.1 1171.5,869.3 1181.5,858.6 1191.5,858.5 1201.5,851.3 1211.5,858.6 1221.5,858.5 1231.5,858.5 1241.5,860.9 1251.5,829.4 1261.5,845.6 1271.5,812.7 1281.5,780.2 1291.5,792.4 1301.5,783.9 1311.5,779 1321.5,759.7 1331.5,769.2 1341.5,776.6 1351.5,764.1 1361.5,775.6 1371.5,767.6 1381.5,833.9 1391.5,842.4 1401.5,856 1411.5,869.8 1421.5,876 1431.5,872.8 1441.5,883.3 1451.5,885.5 1461.5,883.4 1471.5,878.9 1481.5,884.7 1491.5,869.4 1501.5,867.2 1511.5,853.9 1521.5,859.1 1531.5,855.4 1541.5,842 1551.5,838 1561.5,859.3 1571.5,840.2 1581.5,815.4 1591.5,786.9 1601.5,766.1 1611.5,770.8 1621.5,772.5 1631.5,787.6 1641.5,782.5 1651.5,781.4 1661.5,806.5 1671.5,860.6 1681.5,881 1691.5,876.8 1701.5,865.8 1711.5,850.2 1721.5,836.3 1731.5,823.6 1741.5,829.4 1751.5,821.8 1761.5,818.3 1771.5,805 1781.5,781.1 1791.5,771.1 1801.5,806.1 1811.5,816.1 1821.5,805 1831.5,798.4 1841.5,786.5"/>
<g shape-rendering="crispEdges" stroke-width="1">
<path fill="none" stroke="#1ba970" d="M8.5 1042.5h6V1050.5h-6zM18.5 1038.5h6V1050.5h-6zM28.5 1030.5h6V1050.5h-6zM38.5 1026.5h6V1050.5h-6zM98.5 1032.5h6V1050.5h-6zM118.5 1016.5h6V1050.5h-6zM138.5 1039.5h6V1050.5h-6zM158.5 1034.5h6V1050.5h-6zM168.5 1036.5h6V1050.5h-6zM188.5 1030.5h6V1050.5h-6zM208.5 1030.5h6V1050.5h-6zM218.5 1039.5h6V1050.5h-6zM248.5 1030.5h6V1050.5h-6zM278.5 1029.5h6V1050.5h-6zM298.5 1004.5h6V1050.5h-6zM318.5 1015.5h6V1050.5h-6zM338.5 1026.5h6V1050.5h-6zM348.5 1025.5h6V1050.5h-6zM368.5 1034.5h6V1050.5h-6zM418.5 1028.5h6V1050.5h-6zM428.5 1039.5h6V1050.5h-6zM458.5 1039.5h6V1050.5h-6zM488.5 1041.5h6V1050.5h-6zM498.5 1038.5h6V1050.5h-6zM518.5 1039.5h6V1050.5h-6zM528.5 1024.5h6V1050.5h-6zM538.5 1014.5h6V1050.5h-6zM568.5 1034.5h6V1050.5h-6zM578.5 1033.5h6V1050.5h-6zM588.5 1035.5h6V1050.5h-6zM608.5 1043.5h6V1050.5h-6zM618.5 1046.5h6V1050.5h-6zM668.5 1025.5h6V1050.5h-6zM678.5 1042.5h6V1050.5h-6zM688.5 1042.5h6V1050.5h-6zM708.5 1041.5h6V1050.5h-6zM738.5 1042.5h6V1050.5h-6zM758.5 1040.5h6V1050.5h-6zM768.5 1030.5h6V1050.5h-6zM778.5 1031.5h6V1050.5h-6zM808.5 1030.5h6V1050.5h-6zM818.5 976.5h6V1050.5h-6zM848.5 1034.5h6V1050.5h-6zM858.5 1042.5h6V1050.5h-6zM868.5 1039.5h6V1050.5h-6zM878.5 1039.5h6V1050.5h-6zM898.5 1037.5h6V1050.5h-6zM908.5 1013.5h6V1050.5h-6zM938.5 1037.5h6V1050.5h-6zM948.5 1037.5h6V1050.5h-6zM1008.5 1037.5h6V1050.5h-6zM1018.5 1021.5h6V1050.5h-6zM1028.5 1030.5h6V1050.5h-6zM1038.5 1038.5h6V1050.5h-6zM1048.5 1029.5h6V1050.5h-6zM1058.5 1040.5h6V1050.5h-6zM1068.5 1028.5h6V1050.5h-6zM1128.5 1031.5h6V1050.5h-6zM1168.5 1021.5h6V1050.5h-6zM1178.5 1025.5h6V1050.5h-6zM1198.5 1031.5h6V1050.5h-6zM1218.5 1032.5h6V1050.5h-6zM1248.5 1007.5h6V1050.5h-6zM1268.5 1003.5h6V1050.5h-6zM1278.5 1030.5h6V1050.5h-6zM1298.5 1036.5h6V1050.5h-6zM1308.5 1040.5h6V1050.5h-6zM1318.5 1036.5h6V1050.5h-6zM1348.5 1021.5h6V1050.5h-6zM1358.5 1025.5h6V1050.5h-6zM1368.5 1017.5h6V1050.5h-6zM1388.5 1006.5h6V1050.5h-6zM1428.5 1041.5h6V1050.5h-6zM1488.5 971.5h6V1050.5h-6zM1508.5 1000.5h6V1050.5h-6zM1568.5 1010.5h6V1050.5h-6zM1578.5 1030.5h6V1050.5h-6zM1588.5 1017.5h6V1050.5h-6zM1598.5 1035.5h6V1050.5h-6zM1618.5 1028.5h6V1050.5h-6zM1638.5 1039.5h6V1050.5h-6zM1648.5 1039.5h6V1050.5h-6zM1698.5 1011.5h6V1050.5h-6zM1708.5 1020.5h6V1050.5h-6zM1718.5 1030.5h6V1050.5h-6zM1728.5 1016.5h6V1050.5h-6zM1748.5 1018.5h6V1050.5h-6zM1768.5 1022.5h6V1050.5h-6zM1778.5 1017.5h6V1050.5h-6zM1788.5 940.5h6V1050.5h-6zM1808.5 1023.5h6V1050.5h-6zM1818.5 1029.5h6V1050.5h-6zM1828.5 1034.5h6V1050.5h-6zM1838.5 1039.5h6V1050.5h-6z"/>
<path fill="#dc4749" d="M-2 1040h7V1051h-7zM48 1029h7V1051h-7zM58 1012h7V1051h-7zM68 975h7V1051h-7zM78 1003h7V1051h-7zM88 1011h7V1051h-7zM108 1008h7V1051h-7zM128 1028h7V1051h-7zM148 1037h7V1051h-7zM178 1034h7V1051h-7zM198 1039h7V1051h-7zM228 1041h7V1051h-7zM238 1033h7V1051h-7zM258 1038h7V1051h-7zM268 984h7V1051h-7zM288 997h7V1051h-7zM308 1018h7V1051h-7zM328 1025h7V1051h-7zM358 1038h7V1051h-7zM378 1034h7V1051h-7zM388 1040h7V1051h-7zM398 1042h7V1051h-7zM408 1033h7V1051h-7zM438 1040h7V1051h-7zM448 1038h7V1051h-7zM468 1039h7V1051h-7zM478 1035h7V1051h-7zM508 1028h7V1051h-7zM548 1004h7V1051h-7zM558 1018h7V1051h-7zM598 1041h7V1051h-7zM628 1036h7V1051h-7zM638 1046h7V1051h-7zM648 1014h7V1051h-7zM658 1006h7V1051h-7zM698 1037h7V1051h-7zM718 1043h7V1051h-7zM728 1042h7V1051h-7zM748 1042h7V1051h-7zM788 1027h7V1051h-7zM798 1034h7V1051h-7zM828 984h7V1051h-7zM838 1034h7V1051h-7zM888 1040h7V1051h-7zM918 1019h7V1051h-7zM928 1035h7V1051h-7zM958 1031h7V1051h-7zM968 1034h7V1051h-7zM978 1039h7V1051h-7zM988 1027h7V1051h-7zM998 1024h7V1051h-7zM1078 1035h7V1051h-7zM1088 1043h7V1051h-7zM1098 1041h7V1051h-7zM1108 1028h7V1051h-7zM1118 1013h7V1051h-7zM1138 1033h7V1051h-7zM1148 1002h7V1051h-7zM1158 989h7V1051h-7zM1188 1005h7V1051h-7zM1208 1031h7V1051h-7zM1228 1032h7V1051h-7zM1238 1020h7V1051h-7zM1258 993h7V1051h-7zM1288 1023h7V1051h-7zM1328 1039h7V1051h-7zM1338 1041h7V1051h-7zM1378 1013h7V1051h-7zM1398 1037h7V1051h-7zM1408 1037h7V1051h-7zM1418 1035h7V1051h-7zM1438 1037h7V1051h-7zM1448 954h7V1051h-7zM1458 985h7V1051h-7zM1468 1017h7V1051h-7zM1478 998h7V1051h-7zM1498 1010h7V1051h-7zM1518 1000h7V1051h-7zM1528 975h7V1051h-7zM1538 1024h7V1051h-7zM1548 1026h7V1051h-7zM1558 981h7V1051h-7zM1608 1025h7V1051h-7zM1628 1021h7V1051h-7zM1658 1032h7V1051h-7zM1668 1019h7V1051h-7zM1678 913h7V1051h-7zM1688 948h7V1051h-7zM1738 1013h7V1051h-7zM1758 1012h7V1051h-7zM1798 970h7V1051h-7z"/>
</g>
<polyline fill="none" stroke="#f0e12a" stroke-width="1" stroke-linejoin="round" points="-8.5,1038.4 1.5,1038.4 11.5,1038.5 21.5,1038.2 31.5,1037.1 41.5,1035.7 51.5,1034.5 61.5,1032.1 71.5,1026.1 81.5,1022.9 91.5,1020.4 101.5,1019.6 111.5,1016.3 121.5,1014 131.5,1013.8 141.5,1015.1 151.5,1015.9 161.5,1018.1 171.5,1024.2 181.5,1027.3 191.5,1029.3 201.5,1029.9 211.5,1032.2 221.5,1034.5 231.5,1035.8 241.5,1035.2 251.5,1034.5 261.5,1034.9 271.5,1029.7 281.5,1029.2 291.5,1025.9 301.5,1022.4 311.5,1021.1 321.5,1018.8 331.5,1017.1 341.5,1016.5 351.5,1016 361.5,1015.9 371.5,1021 381.5,1021.5 391.5,1025.8 401.5,1029.6 411.5,1031.1 421.5,1032.4 431.5,1033.8 441.5,1035.3 451.5,1036.5 461.5,1036.7 471.5,1037.2 481.5,1037.2 491.5,1037.4 501.5,1037 511.5,1036.5 521.5,1037.6 531.5,1036.1 541.5,1033.5 551.5,1030.1 561.5,1028 571.5,1027.5 581.5,1027.3 591.5,1026.7 601.5,1026.9 611.5,1028.5 621.5,1029.2 631.5,1030.3 641.5,1033.5 651.5,1034.5 661.5,1033.3 671.5,1032.4 681.5,1033.2 691.5,1033.9 701.5,1033.5 711.5,1033.3 721.5,1033 731.5,1033.6 741.5,1033.2 751.5,1036.1 761.5,1039.5 771.5,1040 781.5,1038.9 791.5,1037.4 801.5,1037.1 811.5,1036 821.5,1029.3 831.5,1023.5 841.5,1022.7 851.5,1021.9 861.5,1022.1 871.5,1023 881.5,1023.8 891.5,1025 901.5,1025.4 911.5,1023.6 921.5,1027.9 931.5,1033 941.5,1033.3 951.5,1033.6 961.5,1032.5 971.5,1032 981.5,1032 991.5,1030.7 1001.5,1029.4 1011.5,1031.8 1021.5,1032.1 1031.5,1031.6 1041.5,1031.7 1051.5,1030.9 1061.5,1031.8 1071.5,1031.2 1081.5,1030.8 1091.5,1032.5 1101.5,1034.2 1111.5,1033.2 1121.5,1032.4 1131.5,1032.5 1141.5,1032 1151.5,1029.2 1161.5,1024.1 1171.5,1023.4 1181.5,1022.4 1191.5,1018.6 1201.5,1017.6 1211.5,1018 1221.5,1019.9 1231.5,1020 1241.5,1018.7 1251.5,1019.3 1261.5,1019.7 1271.5,1017.9 1281.5,1018.4 1291.5,1020.2 1301.5,1020.7 1311.5,1021.6 1321.5,1022 1331.5,1022.7 1341.5,1024.8 1351.5,1026.2 1361.5,1029.4 1371.5,1030.8 1381.5,1029.1 1391.5,1027.4 1401.5,1027.5 1411.5,1027.1 1421.5,1027 1431.5,1027.2 1441.5,1026.9 1451.5,1020.1 1461.5,1016.1 1471.5,1016 1481.5,1014.5 1491.5,1011 1501.5,1008.3 1511.5,1004.6 1521.5,1001.2 1531.5,994.5 1541.5,993.2 1551.5,1000.4 1561.5,1000 1571.5,999.3 1581.5,1002.6 1591.5,1007.2 1601.5,1009.7 1611.5,1012.2 1621.5,1015 1631.5,1019.6 1641.5,1021.1 1651.5,1022.5 1661.5,1027.6 1671.5,1028.5 1681.5,1016.7 1691.5,1009.8 1701.5,1007.4 1711.5,1006.9 1721.5,1007.1 1731.5,1006.7 1741.5,1004 1751.5,1001.9 1761.5,999.9 1771.5,1000.2 1781.5,1010.7 1791.5,1009.9 1801.5,1005.8 1811.5,1006 1821.5,1006 1831.5,1007.8 1841.5,1010.4"/>
<polyline fill="none" stroke="#c4c4c6" stroke-width="1" stroke-linejoin="round" points="-8.5,1036 1.5,1036 11.5,1037.3 21.5,1037.9 31.5,1037 41.5,1035.2 51.5,1032.9 61.5,1027 71.5,1014.3 81.5,1008.8 91.5,1005.7 101.5,1006.4 111.5,1005.6 121.5,1013.8 131.5,1018.8 141.5,1024.5 151.5,1025.4 161.5,1030.7 171.5,1034.7 181.5,1035.9 191.5,1034.1 201.5,1034.5 211.5,1033.7 221.5,1034.4 231.5,1035.8 241.5,1036.3 251.5,1034.6 261.5,1036.1 271.5,1025 281.5,1022.6 291.5,1015.4 301.5,1010.2 311.5,1006.2 321.5,1012.5 331.5,1011.7 341.5,1017.5 351.5,1021.7 361.5,1025.7 371.5,1029.5 381.5,1031.4 391.5,1034.1 401.5,1037.4 411.5,1036.5 421.5,1035.3 431.5,1036.2 441.5,1036.4 451.5,1035.6 461.5,1036.9 471.5,1039.1 481.5,1038.2 491.5,1038.3 501.5,1038.4 511.5,1036.2 521.5,1036.2 531.5,1034 541.5,1028.6 551.5,1021.8 561.5,1019.7 571.5,1018.7 581.5,1020.5 591.5,1024.7 601.5,1032.1 611.5,1037.2 621.5,1039.6 631.5,1040.1 641.5,1042.2 651.5,1036.8 661.5,1029.3 671.5,1025.2 681.5,1026.4 691.5,1025.6 701.5,1030.2 711.5,1037.3 721.5,1040.9 731.5,1040.8 741.5,1040.7 751.5,1041.9 761.5,1041.6 771.5,1039.1 781.5,1036.9 791.5,1034 801.5,1032.3 811.5,1030.3 821.5,1019.5 831.5,1010.1 841.5,1011.5 851.5,1011.5 861.5,1013.9 871.5,1026.4 881.5,1037.5 891.5,1038.6 901.5,1039.2 911.5,1033.4 921.5,1029.4 931.5,1028.6 941.5,1028.1 951.5,1028 961.5,1031.6 971.5,1034.7 981.5,1035.5 991.5,1033.4 1001.5,1030.8 1011.5,1032 1021.5,1029.5 1031.5,1027.7 1041.5,1030 1051.5,1031 1061.5,1031.6 1071.5,1033 1081.5,1034 1091.5,1034.9 1101.5,1037.3 1111.5,1034.9 1121.5,1031.8 1131.5,1031 1141.5,1029 1151.5,1021.2 1161.5,1013.3 1171.5,1015 1181.5,1013.9 1191.5,1008.3 1201.5,1014.1 1211.5,1022.6 1221.5,1024.8 1231.5,1026.1 1241.5,1029.2 1251.5,1024.4 1261.5,1016.8 1271.5,1010.9 1281.5,1010.6 1291.5,1011.1 1301.5,1016.9 1311.5,1026.4 1321.5,1033 1331.5,1034.8 1341.5,1038.4 1351.5,1035.4 1361.5,1032.4 1371.5,1028.6 1381.5,1023.4 1391.5,1016.4 1401.5,1019.5 1411.5,1021.9 1421.5,1025.4 1431.5,1031.1 1441.5,1037.3 1451.5,1020.7 1461.5,1010.3 1471.5,1006.6 1481.5,998 1491.5,984.7 1501.5,996 1511.5,999 1521.5,995.7 1531.5,991.1 1541.5,1001.6 1551.5,1004.9 1561.5,1001 1571.5,1003 1581.5,1014.1 1591.5,1012.7 1601.5,1014.6 1611.5,1023.4 1621.5,1027 1631.5,1025.1 1641.5,1029.5 1651.5,1030.3 1661.5,1031.8 1671.5,1030 1681.5,1008.4 1691.5,990.1 1701.5,984.5 1711.5,982.1 1721.5,984.3 1731.5,1005 1741.5,1018 1751.5,1019.4 1761.5,1017.7 1771.5,1016.1 1781.5,1016.3 1791.5,1001.8 1801.5,992.1 1811.5,994.4 1821.5,995.8 1831.5,999.2 1841.5,1019"/>
<g stroke="#282a31" stroke-width="1" shape-rendering="crispEdges">
<line x1="1854" y1="552.5" x2="1859" y2="552.5"/>
<line x1="1854" y1="508.5" x2="1859" y2="508.5"/>
<line x1="1854" y1="463.5" x2="1859" y2="463.5"/>
<line x1="1854" y1="418.5" x2="1859" y2="418.5"/>
<line x1="1854" y1="374.5" x2="1859" y2="374.5"/>
<line x1="1854" y1="329.5" x2="1859" y2="329.5"/>
<line x1="1854" y1="285.5" x2="1859" y2="285.5"/>
<line x1="1854" y1="240.5" x2="1859" y2="240.5"/>
<line x1="1854" y1="195.5" x2="1859" y2="195.5"/>
<line x1="1854" y1="151.5" x2="1859" y2="151.5"/>
<line x1="1854" y1="106.5" x2="1859" y2="106.5"/>
<line x1="1854" y1="62.5" x2="1859" y2="62.5"/>
<line x1="1854" y1="17.5" x2="1859" y2="17.5"/>
<line x1="1854" y1="595.5" x2="1859" y2="595.5"/>
<line x1="1854" y1="621.5" x2="1859" y2="621.5"/>
<line x1="1854" y1="647.5" x2="1859" y2="647.5"/>
<line x1="1854" y1="673.5" x2="1859" y2="673.5"/>
<line x1="1854" y1="699.5" x2="1859" y2="699.5"/>
<line x1="1854" y1="763.5" x2="1859" y2="763.5"/>
<line x1="1854" y1="821.5" x2="1859" y2="821.5"/>
<line x1="1854" y1="879.5" x2="1859" y2="879.5"/>
<line x1="1854" y1="917.5" x2="1859" y2="917.5"/>
<line x1="1854" y1="961.5" x2="1859" y2="961.5"/>
<line x1="1854" y1="1006.5" x2="1859" y2="1006.5"/>
</g>
<g fill="#7f8394" text-anchor="middle">
<g transform="scale(.5)" font-size="24px"><text x="3770" y="1112.4" textLength="87.2" lengthAdjust="spacingAndGlyphs">2800.00</text></g>
<g transform="scale(.5)" font-size="24px"><text x="3770" y="1023.2" textLength="87.2" lengthAdjust="spacingAndGlyphs">2850.00</text></g>
<g transform="scale(.5)" font-size="24px"><text x="3770" y="934" textLength="87.2" lengthAdjust="spacingAndGlyphs">2900.00</text></g>
<g transform="scale(.5)" font-size="24px"><text x="3770" y="844.8" textLength="87.2" lengthAdjust="spacingAndGlyphs">2950.00</text></g>
<g transform="scale(.5)" font-size="24px"><text x="3770" y="755.6" textLength="87.2" lengthAdjust="spacingAndGlyphs">3000.00</text></g>
<g transform="scale(.5)" font-size="24px"><text x="3770" y="666.4" textLength="87.2" lengthAdjust="spacingAndGlyphs">3050.00</text></g>
<g transform="scale(.5)" font-size="24px"><text x="3770" y="577.2" textLength="87.2" lengthAdjust="spacingAndGlyphs">3100.00</text></g>
<g transform="scale(.5)" font-size="24px"><text x="3770" y="488" textLength="87.2" lengthAdjust="spacingAndGlyphs">3150.00</text></g>
<g transform="scale(.5)" font-size="24px"><text x="3770" y="398.8" textLength="87.2" lengthAdjust="spacingAndGlyphs">3200.00</text></g>
<g transform="scale(.5)" font-size="24px"><text x="3770" y="309.6" textLength="87.2" lengthAdjust="spacingAndGlyphs">3250.00</text></g>
<g transform="scale(.5)" font-size="24px"><text x="3770" y="220.4" textLength="87.2" lengthAdjust="spacingAndGlyphs">3300.00</text></g>
<g transform="scale(.5)" font-size="24px"><text x="3770" y="131.2" textLength="87.2" lengthAdjust="spacingAndGlyphs">3350.00</text></g>
<g transform="scale(.5)" font-size="24px"><text x="3770" y="42" textLength="87.2" lengthAdjust="spacingAndGlyphs">3400.00</text></g>
<g transform="scale(.5)" font-size="24px"><text x="3770" y="1197.6" textLength="60.2" lengthAdjust="spacingAndGlyphs">40.00</text></g>
<g transform="scale(.5)" font-size="24px"><text x="3770" y="1249.6" textLength="60.2" lengthAdjust="spacingAndGlyphs">20.00</text></g>
<g transform="scale(.5)" font-size="24px"><text x="3770" y="1301.6" textLength="46.8" lengthAdjust="spacingAndGlyphs">0.00</text></g>
<g transform="scale(.5)" font-size="24px"><text x="3770" y="1353.6" textLength="66.8" lengthAdjust="spacingAndGlyphs">-20.00</text></g>
<g transform="scale(.5)" font-size="24px"><text x="3770" y="1405.6" textLength="66.8" lengthAdjust="spacingAndGlyphs">-40.00</text></g>
<g transform="scale(.5)" font-size="24px"><text x="3770" y="1534.6" textLength="73.6" lengthAdjust="spacingAndGlyphs">100.00</text></g>
<g transform="scale(.5)" font-size="24px"><text x="3770" y="1650.6" textLength="60.2" lengthAdjust="spacingAndGlyphs">50.00</text></g>
<g transform="scale(.5)" font-size="24px"><text x="3770" y="1766.6" textLength="46.8" lengthAdjust="spacingAndGlyphs">0.00</text></g>
<g transform="scale(.5)" font-size="24px"><text x="3770" y="1842.6" textLength="85.8" lengthAdjust="spacingAndGlyphs">600.00k</text></g>
<g transform="scale(.5)" font-size="24px"><text x="3770" y="1931.6" textLength="85.8" lengthAdjust="spacingAndGlyphs">400.00k</text></g>
<g transform="scale(.5)" font-size="24px"><text x="3770" y="2020.6" textLength="85.8" lengthAdjust="spacingAndGlyphs">200.00k</text></g>
</g>
<rect x="1853" y="379" width="64" height="20" fill="#1ba970"/>
<rect x="1853" y="389" width="6" height="1" fill="#fff"/>
<g transform="scale(.5)" font-size="24px"><text x="3770" y="786.6" fill="#fff" text-anchor="middle" textLength="87.2" lengthAdjust="spacingAndGlyphs">2983.13</text></g>
<rect x="1853" y="1029" width="63" height="20" fill="#cb7f0a"/>
<rect x="1853" y="1039" width="6" height="1" fill="#fff"/>
<g transform="scale(.5)" font-size="24px"><text x="3770" y="2086.6" fill="#fff" text-anchor="middle" textLength="59" lengthAdjust="spacingAndGlyphs">51.7k</text></g>
<g transform="scale(.5)" font-size="24px"><text x="2025" y="102" fill="#c8c9cc" textLength="112.6" lengthAdjust="spacingAndGlyphs">3365.69 <tspan font-family="DejaVu Sans" font-size="21px" dx="0.6" dy="2.4">→</tspan></text></g>
<g transform="scale(.5)" font-size="24px"><text x="3265" y="1086" fill="#c8c9cc" textLength="112.6" lengthAdjust="spacingAndGlyphs">2814.44 <tspan font-family="DejaVu Sans" font-size="21px" dx="0.6" dy="2.4">→</tspan></text></g>
<g transform="scale(.5)" font-size="24px"><text x="183" y="2140" text-anchor="middle" fill="#878a9a" stroke="#878a9a" stroke-width="0.9">4月 25</text></g>
<g transform="scale(.5)" font-size="24px"><text x="343" y="2140" text-anchor="middle" fill="#7f8290">08</text></g>
<g transform="scale(.5)" font-size="24px"><text x="503" y="2140" text-anchor="middle" fill="#7f8290">16</text></g>
<g transform="scale(.5)" font-size="24px"><text x="663" y="2140" text-anchor="middle" fill="#878a9a" stroke="#878a9a" stroke-width="0.9">4月 26</text></g>
<g transform="scale(.5)" font-size="24px"><text x="823" y="2140" text-anchor="middle" fill="#7f8290">08</text></g>
<g transform="scale(.5)" font-size="24px"><text x="983" y="2140" text-anchor="middle" fill="#7f8290">16</text></g>
<g transform="scale(.5)" font-size="24px"><text x="1143" y="2140" text-anchor="middle" fill="#878a9a" stroke="#878a9a" stroke-width="0.9">4月 27</text></g>
<g transform="scale(.5)" font-size="24px"><text x="1303" y="2140" text-anchor="middle" fill="#7f8290">08</text></g>
<g transform="scale(.5)" font-size="24px"><text x="1463" y="2140" text-anchor="middle" fill="#7f8290">16</text></g>
<g transform="scale(.5)" font-size="24px"><text x="1623" y="2140" text-anchor="middle" fill="#878a9a" stroke="#878a9a" stroke-width="0.9">4月 28</text></g>
<g transform="scale(.5)" font-size="24px"><text x="1783" y="2140" text-anchor="middle" fill="#7f8290">08</text></g>
<g transform="scale(.5)" font-size="24px"><text x="1943" y="2140" text-anchor="middle" fill="#7f8290">16</text></g>
<g transform="scale(.5)" font-size="24px"><text x="2103" y="2140" text-anchor="middle" fill="#878a9a" stroke="#878a9a" stroke-width="0.9">4月 29</text></g>
<g transform="scale(.5)" font-size="24px"><text x="2263" y="2140" text-anchor="middle" fill="#7f8290">08</text></g>
<g transform="scale(.5)" font-size="24px"><text x="2423" y="2140" text-anchor="middle" fill="#7f8290">16</text></g>
<g transform="scale(.5)" font-size="24px"><text x="2583" y="2140" text-anchor="middle" fill="#878a9a" stroke="#878a9a" stroke-width="0.9">4月 30</text></g>
<g transform="scale(.5)" font-size="24px"><text x="2743" y="2140" text-anchor="middle" fill="#7f8290">08</text></g>
<g transform="scale(.5)" font-size="24px"><text x="2903" y="2140" text-anchor="middle" fill="#7f8290">16</text></g>
<g transform="scale(.5)" font-size="24px"><text x="3063" y="2140" text-anchor="middle" fill="#878a9a" stroke="#878a9a" stroke-width="0.9">5月 1</text></g>
<g transform="scale(.5)" font-size="24px"><text x="3223" y="2140" text-anchor="middle" fill="#7f8290">08</text></g>
<g transform="scale(.5)" font-size="24px"><text x="3383" y="2140" text-anchor="middle" fill="#7f8290">16</text></g>
<g transform="scale(.5)" font-size="24px"><text x="3543" y="2140" text-anchor="middle" fill="#878a9a" stroke="#878a9a" stroke-width="0.9">5月 2</text></g>
<circle cx="18" cy="9.8" r="7.1" fill="none" stroke="#50525c" stroke-width="1"/>
<path d="M14 8.100000000000001l4 3.6l4-3.6" fill="none" stroke="#8a8c96" stroke-width="0.9"/>
<circle cx="18" cy="28" r="7.1" fill="none" stroke="#50525c" stroke-width="1"/>
<path d="M14 26.3l4 3.6l4-3.6" fill="none" stroke="#8a8c96" stroke-width="0.9"/>
<g transform="scale(.5)" font-size="24px"><text x="64" y="26" fill="#7f8290" textLength="186" lengthAdjust="spacingAndGlyphs">2024-05-02 07:00</text></g>
<g transform="scale(.5)" font-size="24px"><text x="264" y="26" fill="#7f8290">开</text></g>
<g transform="scale(.5)" font-size="24px"><text x="293" y="26" fill="#1ba970" textLength="86" lengthAdjust="spacingAndGlyphs">2968.15</text></g>
<g transform="scale(.5)" font-size="24px"><text x="392.6" y="26" fill="#7f8290">高</text></g>
<g transform="scale(.5)" font-size="24px"><text x="422" y="26" fill="#1ba970" textLength="86" lengthAdjust="spacingAndGlyphs">2983.98</text></g>
<g transform="scale(.5)" font-size="24px"><text x="520.8" y="26" fill="#7f8290">低</text></g>
<g transform="scale(.5)" font-size="24px"><text x="550" y="26" fill="#1ba970" textLength="87" lengthAdjust="spacingAndGlyphs">2961.00</text></g>
<g transform="scale(.5)" font-size="24px"><text x="650.6" y="26" fill="#7f8290">收</text></g>
<g transform="scale(.5)" font-size="24px"><text x="679.6" y="26" fill="#1ba970" textLength="86" lengthAdjust="spacingAndGlyphs">2983.13</text></g>
<g transform="scale(.5)" font-size="24px"><text x="779" y="26" fill="#7f8290">涨幅</text></g>
<g transform="scale(.5)" font-size="24px"><text x="831.8" y="26" fill="#1ba970" textLength="141" lengthAdjust="spacingAndGlyphs">0.50%(14.98)</text></g>
<g transform="scale(.5)" font-size="24px"><text x="986.8" y="26" fill="#7f8290">振幅</text></g>
<g transform="scale(.5)" font-size="24px"><text x="1039.6" y="26" fill="#1ba970" textLength="63" lengthAdjust="spacingAndGlyphs">0.77%</text></g>
<g transform="translate(38 26.7)" fill="none" stroke="#7f8290" stroke-width="1"><path d="M-6 3h12M-4.5 3v-3.6a4.5 4.5 0 0 1 9 0v3.6"/><path d="M-3 3.6l3 2.6l3-2.6"/></g>
<g transform="scale(.5)" font-size="24px"><text x="92.8" y="62.6" fill="#7f8290" textLength="50" lengthAdjust="spacingAndGlyphs">EMA</text></g>
<g transform="scale(.5)" font-size="24px"><text x="160.6" y="62.6" fill="#c8c9cc" textLength="172" lengthAdjust="spacingAndGlyphs">EMA(7):2954.83</text></g>
<g transform="scale(.5)" font-size="24px"><text x="346" y="62.6" fill="#f0e12a" textLength="184.8" lengthAdjust="spacingAndGlyphs">EMA(30):2962.27</text></g>
<g transform="translate(22 577.5)" fill="none" stroke="#7f8290" stroke-width="1"><path d="M-6 3h12M-4.5 3v-3.6a4.5 4.5 0 0 1 9 0v3.6"/><path d="M-3 3.6l3 2.6l3-2.6"/></g>
<g transform="scale(.5)" font-size="24px"><text x="59.6" y="1164" fill="#7f8290" textLength="161.6" lengthAdjust="spacingAndGlyphs">MACD(12,26,9)</text></g>
<path d="M119.89999999999999 576.8h7.4l-3.7 4.1z" fill="#7f8290"/>
<g transform="scale(.5)" font-size="24px"><text x="273.2" y="1164" fill="#c8c9cc" textLength="108" lengthAdjust="spacingAndGlyphs">DIF:-10.19</text></g>
<g transform="scale(.5)" font-size="24px"><text x="394" y="1164" fill="#f0e12a" textLength="117.6" lengthAdjust="spacingAndGlyphs">DEA:-24.88</text></g>
<g transform="scale(.5)" font-size="24px"><text x="522.4" y="1164" fill="#1ba970" textLength="134" lengthAdjust="spacingAndGlyphs">MACD:29.38</text></g>
<g transform="translate(22 739.5)" fill="none" stroke="#7f8290" stroke-width="1"><path d="M-6 3h12M-4.5 3v-3.6a4.5 4.5 0 0 1 9 0v3.6"/><path d="M-3 3.6l3 2.6l3-2.6"/></g>
<g transform="scale(.5)" font-size="24px"><text x="59.6" y="1488" fill="#7f8290" textLength="110" lengthAdjust="spacingAndGlyphs">KDJ(9,3,3)</text></g>
<path d="M94.39999999999999 738.8h7.4l-3.7 4.1z" fill="#7f8290"/>
<g transform="scale(.5)" font-size="24px"><text x="222" y="1488" fill="#c8c9cc" textLength="81.6" lengthAdjust="spacingAndGlyphs">K:68.35</text></g>
<g transform="scale(.5)" font-size="24px"><text x="315.6" y="1488" fill="#f0e12a" textLength="79.6" lengthAdjust="spacingAndGlyphs">D:62.71</text></g>
<g transform="scale(.5)" font-size="24px"><text x="409.2" y="1488" fill="#cf3fae" textLength="78.8" lengthAdjust="spacingAndGlyphs">J:79.65</text></g>
<g transform="scale(.5)" font-size="24px"><text x="32" y="1812" fill="#7f8290" textLength="95.2" lengthAdjust="spacingAndGlyphs">VOLUME</text></g>
<path d="M72.6 900.8h7.4l-3.7 4.1z" fill="#7f8290"/>
<g transform="scale(.5)" font-size="24px"><text x="178" y="1812" fill="#7f8290" textLength="231.2" lengthAdjust="spacingAndGlyphs">VOLUME:51,739.4840</text></g>
<g transform="scale(.5)" font-size="24px"><text x="422" y="1812" fill="#c8c9cc" textLength="218" lengthAdjust="spacingAndGlyphs">MA(5):141,382.7654</text></g>
<g transform="scale(.5)" font-size="24px"><text x="652.6" y="1812" fill="#f0e12a" textLength="232" lengthAdjust="spacingAndGlyphs">MA(10):179,913.4678</text></g>
</svg></body></html>
